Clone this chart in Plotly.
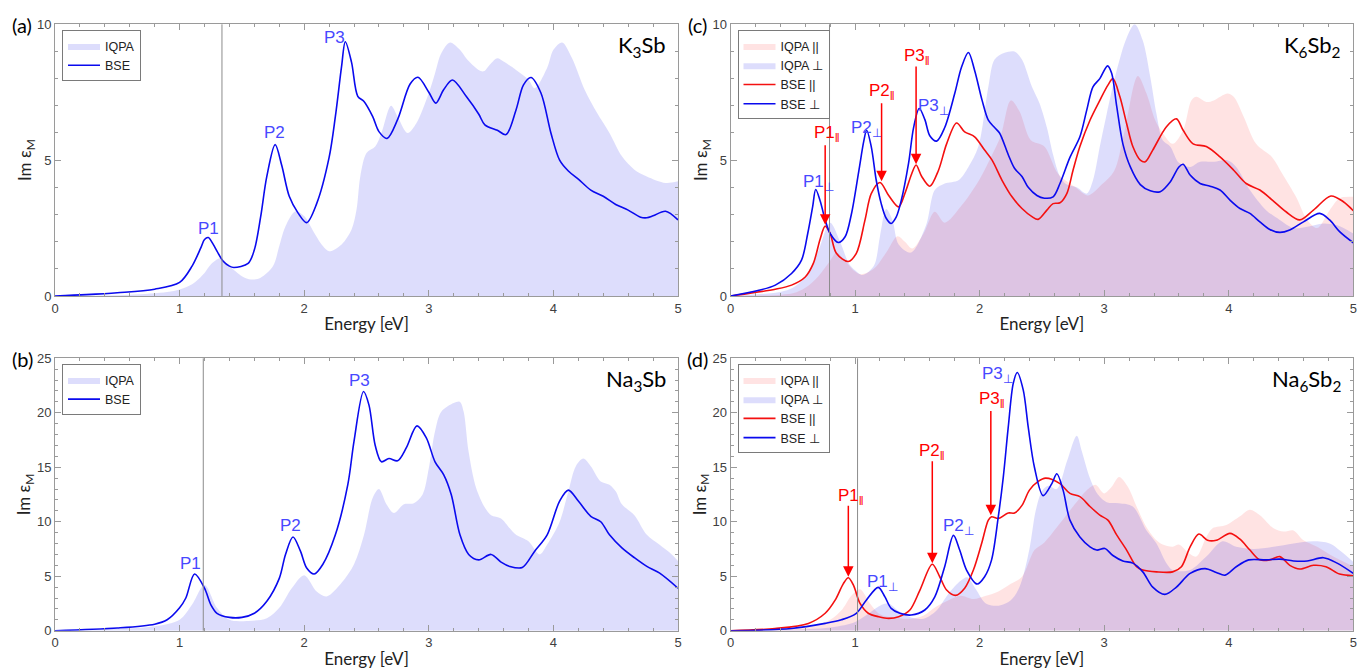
import plotly.graph_objects as go

# ---------------- data ----------------
# (a) K3Sb
a_iqpa_E = [0, 0.6, 0.9, 1.0, 1.1, 1.2, 1.25, 1.33, 1.4, 1.5, 1.575, 1.65, 1.75, 1.8, 1.85, 1.93, 2.0, 2.08, 2.15, 2.2, 2.3, 2.38, 2.42, 2.45, 2.5, 2.57, 2.62, 2.697, 2.75, 2.83, 2.9, 3.0, 3.05, 3.1, 3.17, 3.25, 3.3, 3.4, 3.44, 3.5, 3.55, 3.6, 3.7, 3.8, 3.85, 3.95, 4.0, 4.07, 4.15, 4.25, 4.35, 4.45, 4.55, 4.65, 4.75, 4.9, 5.0]
a_iqpa = [0, 0.05, 0.15, 0.24, 0.43, 0.85, 1.16, 1.4, 1.1, 0.73, 0.61, 0.67, 1.1, 1.84, 2.57, 3.12, 2.94, 2.33, 1.84, 1.65, 1.9, 2.45, 3.18, 4.4, 5.26, 5.5, 6.0, 7.0, 6.6, 6.0, 6.36, 7.47, 8.2, 8.93, 9.33, 9.06, 8.75, 8.32, 8.27, 8.57, 8.75, 8.63, 8.32, 7.96, 7.65, 8.4, 9.06, 9.33, 8.75, 7.6, 6.74, 6.0, 5.14, 4.65, 4.4, 4.16, 4.22]
a_bse_E = [0, 0.25, 0.5, 0.8, 1.0, 1.1, 1.17, 1.2, 1.23, 1.27, 1.3, 1.35, 1.4, 1.435, 1.55, 1.6, 1.65, 1.7, 1.767, 1.82, 1.88, 1.95, 2.02, 2.1, 2.2, 2.25, 2.3, 2.33, 2.38, 2.43, 2.48, 2.55, 2.6, 2.665, 2.75, 2.85, 2.913, 3.0, 3.056, 3.12, 3.19, 3.3, 3.4, 3.45, 3.55, 3.62, 3.7, 3.76, 3.82, 3.9, 3.98, 4.05, 4.12, 4.2, 4.3, 4.4, 4.5, 4.6, 4.7, 4.75, 4.8, 4.9, 5.0]
a_bse = [0, 0.05, 0.12, 0.25, 0.5, 1.1, 1.77, 2.08, 2.15, 1.9, 1.65, 1.28, 1.1, 1.05, 1.2, 1.7, 2.9, 4.4, 5.57, 4.8, 3.67, 3.06, 2.7, 3.4, 5.1, 6.6, 8.45, 9.36, 8.6, 7.35, 7.16, 6.6, 6.05, 5.8, 6.5, 7.8, 8.05, 7.5, 7.1, 7.6, 7.95, 7.35, 6.7, 6.3, 6.1, 5.94, 6.85, 7.77, 8.04, 7.47, 6.0, 5.0, 4.6, 4.3, 3.9, 3.67, 3.37, 3.16, 2.9, 2.88, 2.95, 3.12, 2.8]

# (b) Na3Sb
b_iqpa_E = [0, 0.8, 1.0, 1.1, 1.2, 1.3, 1.4, 1.55, 1.7, 1.8, 1.9, 2.0, 2.1, 2.18, 2.3, 2.4, 2.48, 2.55, 2.6, 2.66, 2.72, 2.8, 2.88, 2.95, 3.0, 3.05, 3.1, 3.2, 3.25, 3.28, 3.32, 3.38, 3.45, 3.5, 3.58, 3.65, 3.7, 3.8, 3.89, 3.95, 4.05, 4.12, 4.18, 4.24, 4.3, 4.38, 4.45, 4.5, 4.55, 4.65, 4.75, 4.85, 4.95, 5.0]
b_iqpa = [0, 0.4, 1.0, 2.4, 4.2, 2.1, 1.0, 0.9, 1.15, 2.1, 3.9, 5.1, 3.6, 3.15, 4.4, 6.1, 8.8, 12.2, 13.0, 11.6, 10.8, 11.6, 11.7, 12.5, 14.9, 18.3, 20.1, 20.9, 21.0, 20.1, 16.4, 13.1, 11.3, 10.6, 10.3, 9.4, 8.8, 8.2, 7.0, 7.9, 10.0, 12.8, 15.1, 15.8, 15.1, 13.7, 13.4, 12.8, 11.6, 10.6, 8.8, 7.9, 7.0, 6.4]
b_bse_E = [0, 0.5, 0.8, 0.9, 1.0, 1.05, 1.12, 1.2, 1.25, 1.3, 1.4, 1.5, 1.6, 1.7, 1.8, 1.85, 1.91, 1.97, 2.02, 2.08, 2.15, 2.25, 2.35, 2.4, 2.476, 2.52, 2.57, 2.62, 2.68, 2.75, 2.82, 2.905, 2.98, 3.05, 3.12, 3.18, 3.25, 3.32, 3.4, 3.5, 3.58, 3.65, 3.75, 3.85, 3.95, 4.05, 4.12, 4.2, 4.3, 4.38, 4.45, 4.55, 4.65, 4.75, 4.85, 5.0]
b_bse = [0, 0.25, 0.6, 1.0, 2.1, 3.0, 5.2, 3.9, 2.4, 1.6, 1.22, 1.22, 1.6, 2.7, 4.8, 7.0, 8.6, 7.3, 5.75, 5.2, 6.1, 8.8, 13.4, 17.4, 21.95, 20.7, 17.0, 15.5, 15.8, 15.6, 16.8, 18.8, 17.7, 15.5, 14.3, 12.5, 8.8, 7.0, 6.5, 7.0, 6.3, 5.9, 5.8, 7.3, 8.8, 11.9, 12.9, 11.9, 10.5, 10.0, 8.8, 7.6, 6.7, 5.9, 5.3, 3.9]

# (c) K6Sb2
c_iqpa_par_E = [0, 0.5, 0.6, 0.7, 0.8, 0.85, 0.9, 1.0, 1.05, 1.15, 1.25, 1.34, 1.4, 1.46, 1.55, 1.64, 1.72, 1.85, 2.0, 2.1, 2.17, 2.25, 2.32, 2.41, 2.52, 2.63, 2.77, 2.87, 2.98, 3.08, 3.16, 3.27, 3.34, 3.41, 3.47, 3.55, 3.634, 3.7, 3.74, 3.82, 3.88, 3.99, 4.04, 4.12, 4.22, 4.35, 4.43, 4.54, 4.63, 4.71, 4.81, 4.89, 5.0]
c_iqpa_par = [0, 0.1, 0.3, 0.7, 1.3, 1.6, 1.4, 0.9, 0.8, 1.0, 1.6, 2.2, 2.0, 1.75, 2.3, 3.1, 2.7, 3.3, 4.3, 5.2, 5.9, 7.2, 6.8, 5.74, 5.5, 4.5, 4.0, 3.7, 4.1, 4.6, 6.0, 8.1, 7.45, 6.47, 6.0, 5.6, 6.1, 7.2, 7.33, 7.14, 7.2, 7.45, 7.33, 6.6, 5.6, 5.1, 4.5, 3.65, 2.8, 2.5, 3.16, 3.6, 3.65]
c_iqpa_perp_E = [0, 0.4, 0.5, 0.6, 0.7, 0.8, 0.88, 0.95, 1.0, 1.06, 1.15, 1.2, 1.25, 1.3, 1.35, 1.45, 1.57, 1.64, 1.72, 1.83, 1.91, 1.99, 2.07, 2.12, 2.2, 2.28, 2.34, 2.42, 2.48, 2.54, 2.59, 2.645, 2.7, 2.78, 2.86, 2.91, 2.965, 3.02, 3.1, 3.18, 3.245, 3.31, 3.37, 3.42, 3.47, 3.53, 3.6, 3.69, 3.77, 3.88, 3.99, 4.06, 4.17, 4.3, 4.41, 4.52, 4.63, 4.76, 4.87, 5.0]
c_iqpa_perp = [0, 0.15, 0.3, 0.7, 1.6, 2.7, 2.0, 1.2, 0.95, 0.77, 1.1, 2.2, 3.2, 2.8, 1.9, 1.6, 2.6, 3.9, 4.14, 4.26, 4.75, 5.5, 7.7, 8.7, 8.95, 9.0, 8.7, 7.7, 7.1, 6.2, 5.2, 4.4, 4.1, 4.0, 3.77, 4.26, 5.5, 6.7, 8.3, 9.5, 10.0, 9.4, 8.06, 6.7, 5.73, 5.5, 4.9, 4.75, 4.94, 4.94, 5.0, 4.75, 3.9, 3.16, 2.8, 2.5, 2.55, 2.67, 2.6, 2.3]
c_bse_par_E = [0, 0.36, 0.49, 0.6, 0.665, 0.72, 0.76, 0.8, 0.85, 0.945, 1.01, 1.08, 1.13, 1.2, 1.27, 1.35, 1.4, 1.455, 1.49, 1.535, 1.6, 1.67, 1.735, 1.815, 1.88, 1.96, 2.04, 2.1, 2.18, 2.26, 2.34, 2.42, 2.47, 2.54, 2.59, 2.645, 2.7, 2.75, 2.805, 2.886, 2.965, 3.03, 3.07, 3.125, 3.18, 3.23, 3.29, 3.33, 3.39, 3.5, 3.58, 3.634, 3.714, 3.82, 3.93, 4.04, 4.14, 4.25, 4.35, 4.46, 4.57, 4.68, 4.82, 4.92, 5.0]
c_bse_par = [0, 0.25, 0.4, 0.7, 1.2, 2.1, 2.57, 2.3, 1.57, 1.27, 1.57, 2.8, 3.77, 4.18, 3.7, 3.28, 3.77, 4.5, 4.82, 4.4, 4.04, 4.63, 5.6, 6.37, 6.04, 5.86, 5.37, 5.0, 4.26, 3.65, 3.22, 2.92, 2.82, 3.16, 3.4, 3.43, 3.77, 4.63, 5.5, 6.47, 7.2, 7.76, 8.0, 7.35, 6.35, 5.5, 5.0, 4.94, 5.37, 6.23, 6.52, 6.1, 5.6, 5.5, 5.12, 4.63, 4.14, 3.9, 3.53, 3.1, 2.8, 3.16, 3.68, 3.47, 3.14]
c_bse_perp_E = [0, 0.22, 0.36, 0.49, 0.57, 0.62, 0.66, 0.684, 0.72, 0.76, 0.8, 0.865, 0.92, 0.97, 1.03, 1.07, 1.093, 1.13, 1.17, 1.21, 1.25, 1.29, 1.33, 1.37, 1.43, 1.47, 1.515, 1.56, 1.6, 1.655, 1.72, 1.8, 1.855, 1.91, 1.96, 2.02, 2.07, 2.12, 2.16, 2.23, 2.28, 2.34, 2.39, 2.46, 2.52, 2.59, 2.645, 2.725, 2.805, 2.86, 2.91, 2.965, 3.027, 3.06, 3.1, 3.15, 3.21, 3.29, 3.37, 3.45, 3.53, 3.6, 3.634, 3.69, 3.77, 3.85, 3.93, 4.01, 4.09, 4.17, 4.25, 4.33, 4.41, 4.49, 4.6, 4.73, 4.81, 4.89, 5.0]
c_bse_perp = [0, 0.2, 0.4, 0.83, 1.32, 2.3, 3.3, 3.92, 3.5, 2.8, 2.3, 1.97, 2.18, 3.0, 4.6, 5.7, 6.1, 5.5, 4.26, 3.4, 2.86, 2.67, 2.9, 3.5, 4.9, 6.2, 6.9, 6.5, 5.9, 5.7, 6.2, 7.45, 8.43, 8.96, 8.3, 7.2, 6.47, 6.2, 6.0, 5.2, 4.7, 4.4, 4.0, 3.7, 3.6, 3.65, 4.14, 5.1, 5.86, 6.84, 7.7, 8.0, 8.47, 8.2, 7.0, 5.6, 4.75, 4.1, 3.87, 3.84, 4.2, 4.75, 4.85, 4.45, 4.14, 4.04, 3.9, 3.53, 3.22, 3.04, 2.73, 2.45, 2.34, 2.43, 2.73, 3.04, 2.8, 2.37, 1.96]

# (d) Na6Sb2
d_iqpa_par_E = [0, 0.6, 0.8, 0.9, 0.97, 1.04, 1.12, 1.2, 1.3, 1.45, 1.55, 1.65, 1.75, 1.85, 1.95, 2.05, 2.15, 2.25, 2.34, 2.44, 2.52, 2.645, 2.75, 2.86, 2.93, 3.0, 3.06, 3.12, 3.19, 3.26, 3.34, 3.42, 3.47, 3.55, 3.6, 3.68, 3.74, 3.82, 3.87, 3.98, 4.09, 4.17, 4.25, 4.36, 4.44, 4.52, 4.6, 4.71, 4.84, 5.0]
d_iqpa_par = [0, 0.3, 1.0, 2.0, 3.2, 3.8, 2.5, 1.5, 1.2, 1.1, 1.4, 2.2, 2.8, 3.2, 2.9, 3.2, 3.6, 4.3, 4.95, 7.4, 8.1, 9.85, 11.4, 12.9, 13.4, 12.6, 13.2, 14.1, 13.2, 11.4, 9.5, 8.3, 7.9, 7.7, 7.9, 7.1, 6.8, 8.6, 9.4, 9.7, 10.5, 11.1, 10.6, 9.4, 9.1, 9.2, 8.3, 7.7, 6.8, 5.9]
d_iqpa_perp_E = [0, 0.8, 1.0, 1.1, 1.2, 1.27, 1.35, 1.45, 1.55, 1.65, 1.75, 1.85, 1.9, 1.97, 2.05, 2.15, 2.25, 2.32, 2.4, 2.45, 2.5, 2.55, 2.62, 2.7, 2.78, 2.82, 2.886, 2.95, 3.02, 3.12, 3.23, 3.34, 3.42, 3.5, 3.55, 3.69, 3.82, 3.95, 4.06, 4.2, 4.36, 4.52, 4.68, 4.81, 4.92, 5.0]
d_iqpa_perp = [0, 0.3, 0.8, 1.5, 2.3, 2.5, 1.8, 1.2, 1.1, 1.8, 3.4, 4.6, 4.9, 3.8, 2.5, 2.3, 2.8, 4.0, 7.5, 11.0, 12.8, 13.3, 13.0, 15.5, 17.9, 16.5, 14.0, 12.5, 11.8, 11.7, 11.4, 9.2, 8.0, 6.2, 5.57, 5.57, 6.8, 8.2, 7.7, 7.5, 7.7, 8.0, 8.2, 8.0, 7.1, 6.3]
d_bse_par_E = [0, 0.357, 0.625, 0.76, 0.84, 0.905, 0.946, 0.986, 1.04, 1.106, 1.19, 1.27, 1.35, 1.44, 1.52, 1.62, 1.68, 1.735, 1.806, 1.88, 1.95, 2.016, 2.07, 2.096, 2.15, 2.23, 2.28, 2.34, 2.4, 2.47, 2.53, 2.645, 2.725, 2.805, 2.886, 2.965, 3.03, 3.1, 3.18, 3.26, 3.31, 3.42, 3.55, 3.62, 3.69, 3.76, 3.83, 3.9, 4.01, 4.09, 4.17, 4.25, 4.33, 4.41, 4.49, 4.57, 4.68, 4.78, 4.89, 5.0]
d_bse_par = [0, 0.2, 0.67, 1.6, 2.8, 4.3, 4.86, 4.2, 2.5, 1.6, 1.28, 1.13, 1.28, 1.9, 3.7, 6.1, 4.95, 3.73, 3.24, 3.9, 5.57, 8.0, 10.15, 10.46, 10.3, 10.8, 10.8, 11.5, 12.9, 13.7, 14.0, 13.5, 12.6, 12.3, 11.4, 10.6, 10.15, 8.8, 7.4, 5.87, 5.57, 5.4, 5.4, 5.87, 7.7, 8.87, 8.3, 8.3, 8.93, 8.4, 7.4, 6.5, 6.5, 6.8, 6.0, 5.66, 6.0, 5.87, 5.2, 5.05]
d_bse_perp_E = [0, 0.49, 0.76, 0.89, 1.01, 1.09, 1.186, 1.24, 1.29, 1.36, 1.45, 1.56, 1.64, 1.72, 1.79, 1.84, 1.895, 1.98, 2.04, 2.096, 2.15, 2.19, 2.23, 2.27, 2.302, 2.35, 2.39, 2.44, 2.51, 2.58, 2.62, 2.67, 2.725, 2.805, 2.886, 2.94, 3.005, 3.07, 3.15, 3.23, 3.31, 3.39, 3.487, 3.58, 3.69, 3.81, 3.9, 3.97, 4.06, 4.16, 4.3, 4.41, 4.52, 4.63, 4.76, 4.87, 5.0]
d_bse_perp = [0, 0.2, 0.67, 1.0, 1.6, 2.8, 3.98, 3.1, 2.05, 1.6, 1.44, 1.9, 3.1, 5.9, 8.75, 7.4, 5.57, 4.28, 4.95, 6.5, 10.46, 14.1, 18.7, 22.7, 23.7, 22.1, 18.7, 15.0, 12.4, 13.5, 14.4, 12.9, 10.15, 8.6, 7.7, 7.4, 7.55, 6.9, 6.4, 6.2, 5.4, 4.0, 3.33, 4.0, 5.26, 5.7, 5.35, 5.1, 5.87, 6.5, 6.5, 6.57, 6.4, 6.4, 6.7, 6.2, 5.26]

# vertical marker energies
vline_E = {"a": 1.34, "b": 1.19, "c": 0.795, "d": 1.02}
y_max = {"a": 10, "b": 25, "c": 10, "d": 25}
y_ticks = {"a": [0, 5, 10], "b": [0, 5, 10, 15, 20, 25], "c": [0, 5, 10], "d": [0, 5, 10, 15, 20, 25]}
x_ticks = [0, 1, 2, 3, 4, 5]
compound = {"a": "K<sub>3</sub>Sb", "b": "Na<sub>3</sub>Sb", "c": "K<sub>6</sub>Sb<sub>2</sub>", "d": "Na<sub>6</sub>Sb<sub>2</sub>"}

# peak labels: (panel, text, E, value, colour-key)
peak_labels = [
    ("a", "P1", 1.23, 2.5, "b"), ("a", "P2", 1.76, 6.0, "b"), ("a", "P3", 2.24, 9.5, "b"),
    ("b", "P1", 1.09, 6.2, "b"), ("b", "P2", 1.894, 9.66, "b"), ("b", "P3", 2.44, 22.97, "b"),
    ("c", "P1<sub>⊥</sub>", 0.71, 4.15, "b"), ("c", "P2<sub>⊥</sub>", 1.09, 6.16, "b"), ("c", "P3<sub>⊥</sub>", 1.63, 6.94, "b"),
    ("c", "P1<sub>‖</sub>", 0.777, 5.98, "r"), ("c", "P2<sub>‖</sub>", 1.218, 7.51, "r"), ("c", "P3<sub>‖</sub>", 1.5, 8.8, "r"),
    ("d", "P1<sub>⊥</sub>", 1.22, 4.34, "b"), ("d", "P2<sub>⊥</sub>", 1.83, 9.5, "b"), ("d", "P3<sub>⊥</sub>", 2.14, 23.5, "b"),
    ("d", "P1<sub>‖</sub>", 0.965, 12.3, "r"), ("d", "P2<sub>‖</sub>", 1.62, 16.4, "r"), ("d", "P3<sub>‖</sub>", 2.096, 21.2, "r"),
]
# arrows: (panel, E, value_from, value_to)
arrows = [
    ("c", 0.76, 5.6, 2.62), ("c", 1.213, 7.15, 4.22), ("c", 1.49, 8.5, 4.85),
    ("d", 0.946, 11.6, 4.95), ("d", 1.62, 15.7, 6.2), ("d", 2.09, 20.3, 10.6),
]

# ---------------- styling ----------------
W, H = 1369, 671
BLUE_FILL = "rgba(0,0,235,0.135)"
RED_FILL = "rgba(255,0,0,0.11)"
BLUE = "#0a0aee"
RED = "#f41010"
LBL_BLUE = "#4848ff"
LBL_RED = "#ff0000"
FRAME = "#9a9a9a"
TICKFONT = dict(family="Liberation Sans, Arial", size=13, color="#404040")
TITLEFONT = dict(family="Lato, Open Sans", size=17, color="#222222")
SMOOTH = 0.9

xdom = {"L": [55 / W, 678 / W], "R": [730.5 / W, 1353.3 / W]}
ydom = {"T": [1 - 296 / H, 1 - 24.3 / H], "B": [1 - 630.7 / H, 1 - 358.3 / H]}
panels = {"a": ("", "L", "T", "legend"), "c": ("2", "R", "T", "legend2"),
          "b": ("3", "L", "B", "legend3"), "d": ("4", "R", "B", "legend4")}

fig = go.Figure()


def add_fill(p, E, v, color, name):
    s, _, _, lg = panels[p]
    fig.add_trace(go.Scatter(x=E, y=v, mode="lines", fill="tozeroy", fillcolor=color,
                             line=dict(width=0, shape="spline", smoothing=SMOOTH, color=color),
                             name=name, legend=lg, xaxis="x" + s, yaxis="y" + s, hoverinfo="skip"))


def add_line(p, E, v, color, name):
    s, _, _, lg = panels[p]
    fig.add_trace(go.Scatter(x=E, y=v, mode="lines",
                             line=dict(width=1.6, shape="spline", smoothing=SMOOTH, color=color),
                             name=name, legend=lg, xaxis="x" + s, yaxis="y" + s))


add_fill("a", a_iqpa_E, a_iqpa, BLUE_FILL, "IQPA")
add_line("a", a_bse_E, a_bse, BLUE, "BSE")
add_fill("b", b_iqpa_E, b_iqpa, BLUE_FILL, "IQPA")
add_line("b", b_bse_E, b_bse, BLUE, "BSE")
add_fill("c", c_iqpa_par_E, c_iqpa_par, RED_FILL, "IQPA ||")
add_fill("c", c_iqpa_perp_E, c_iqpa_perp, BLUE_FILL, "IQPA ⊥")
add_line("c", c_bse_par_E, c_bse_par, RED, "BSE ||")
add_line("c", c_bse_perp_E, c_bse_perp, BLUE, "BSE ⊥")
add_fill("d", d_iqpa_par_E, d_iqpa_par, RED_FILL, "IQPA ||")
add_fill("d", d_iqpa_perp_E, d_iqpa_perp, BLUE_FILL, "IQPA ⊥")
add_line("d", d_bse_par_E, d_bse_par, RED, "BSE ||")
add_line("d", d_bse_perp_E, d_bse_perp, BLUE, "BSE ⊥")

layout = dict(width=W, height=H, margin=dict(l=0, r=0, t=0, b=0, pad=0, autoexpand=False),
              paper_bgcolor="white", plot_bgcolor="white", showlegend=True)
annotations = []
shapes = []
letters = {"a": "(a)", "b": "(b)", "c": "(c)", "d": "(d)"}

for p, (s, xd, yd, lg) in panels.items():
    layout["xaxis" + s] = dict(domain=xdom[xd], range=[0, 5], anchor="y" + s, automargin=False,
                               tickvals=x_ticks, ticks="inside", ticklen=6, tickcolor=FRAME,
                               showline=True, linecolor=FRAME, linewidth=1, mirror="ticks",
                               showgrid=False, zeroline=False, tickfont=TICKFONT,
                               minor=dict(dtick=0.2, ticks="inside", ticklen=3, tickcolor=FRAME, showgrid=False),
                               title=dict(text="Energy [eV]", font=TITLEFONT, standoff=3))
    layout["yaxis" + s] = dict(domain=ydom[yd], range=[0, y_max[p]], anchor="x" + s, automargin=False,
                               tickvals=y_ticks[p], ticks="inside", ticklen=6, tickcolor=FRAME,
                               showline=True, linecolor=FRAME, linewidth=1, mirror="ticks",
                               showgrid=False, zeroline=False, tickfont=TICKFONT,
                               minor=dict(dtick=1, ticks="inside", ticklen=3, tickcolor=FRAME, showgrid=False),
                               title=dict(text="Im ε<sub>M</sub>", font=TITLEFONT, standoff=0))
    lx = xdom[xd][0] + 7 / W
    ly = ydom[yd][1] - 6 / H
    layout[lg] = dict(x=lx, y=ly, xanchor="left", yanchor="top", bgcolor="white",
                      bordercolor="#7a7a7a", borderwidth=1, itemwidth=32, tracegroupgap=0,
                      font=dict(family="Liberation Sans, Arial", size=12.5, color="#222222"))
    shapes.append(dict(type="line", xref="x" + s, yref="y" + s + " domain", x0=vline_E[p], x1=vline_E[p],
                       y0=0, y1=1, line=dict(color="#8c8c8c", width=1), layer="above"))
    annotations.append(dict(xref="paper", yref="paper", x=xdom[xd][0] - 33 / W, y=ydom[yd][1] - 1 / H,
                            text=letters[p], showarrow=False, xanchor="center", yanchor="middle",
                            font=dict(family="Lato, Open Sans", size=20, color="black")))
    annotations.append(dict(xref="paper", yref="paper", x=xdom[xd][1] - 10 / W, y=ydom[yd][1] - 22 / H,
                            text=compound[p], showarrow=False, xanchor="right", yanchor="middle",
                            font=dict(family="Lato, Open Sans", size=22, color="black")))

for p, txt, E, v, ck in peak_labels:
    s = panels[p][0]
    annotations.append(dict(xref="x" + s, yref="y" + s, x=E, y=v, text=txt, showarrow=False,
                            xanchor="center", yanchor="middle",
                            font=dict(family="Liberation Sans, Arial", size=17,
                                      color=LBL_BLUE if ck == "b" else LBL_RED)))

for p, E, v0, v1 in arrows:
    s = panels[p][0]
    annotations.append(dict(xref="x" + s, yref="y" + s, axref="x" + s, ayref="y" + s,
                            x=E, y=v1, ax=E, ay=v0, text="", showarrow=True,
                            arrowhead=2, arrowsize=1.4, arrowwidth=1.5, arrowcolor=LBL_RED, standoff=0))

layout["annotations"] = annotations
layout["shapes"] = shapes
fig.update_layout(**layout)
fig.write_html("out.html", config={"displayModeBar": False},
               post_script="document.body.style.margin='0';document.body.style.overflow='hidden';")
